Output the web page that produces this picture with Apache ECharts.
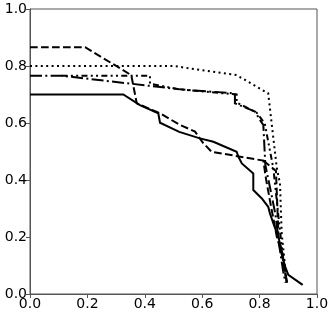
<!DOCTYPE html>
<html>
<head>
<meta charset="utf-8">
<script src="https://cdn.jsdelivr.net/npm/echarts@6/dist/echarts.min.js"></script>
<style>
html,body{margin:0;padding:0;background:#fff;}
#c{width:332px;height:316px;}
</style>
</head>
<body>
<div id="c"></div>
<script>
var xTicks = [0.0, 0.2, 0.4, 0.6, 0.8, 1.0];
var yTicks = [0.0, 0.2, 0.4, 0.6, 0.8, 1.0];

var solidLine = [[0,0.70],[0.325,0.70],[0.383,0.663],[0.447,0.634],[0.453,0.601],[0.52,0.569],[0.592,0.546],[0.639,0.534],[0.72,0.499],[0.726,0.482],[0.738,0.458],[0.778,0.423],[0.778,0.365],[0.807,0.336],[0.830,0.306],[0.836,0.283],[0.848,0.248],[0.865,0.201],[0.877,0.154],[0.883,0.119],[0.889,0.096],[0.90,0.067],[0.95,0.032]];
var dashedA = [[0,0.866],[0.192,0.866],[0.343,0.774],[0.354,0.762],[0.372,0.669],[0.453,0.634],[0.523,0.593],[0.575,0.57],[0.604,0.529],[0.633,0.499],[0.813,0.468],[0.823,0.40],[0.840,0.306],[0.86,0.201],[0.883,0.119],[0.894,0.043]];
var dashedB = [[0.813,0.468],[0.857,0.432],[0.862,0.30],[0.866,0.20],[0.885,0.10],[0.896,0.04]];
var dottedLine = [[0,0.80],[0.50,0.80],[0.72,0.768],[0.83,0.704],[0.86,0.441],[0.871,0.388],[0.877,0.213],[0.889,0.096],[0.894,0.037]];
var dashDotA = [[0,0.766],[0.11,0.766],[0.523,0.718],[0.714,0.704],[0.714,0.669],[0.784,0.64],[0.801,0.611],[0.813,0.593],[0.82,0.453],[0.835,0.38],[0.855,0.28],[0.87,0.16],[0.882,0.08],[0.89,0.04]];
var dashDotB = [[0.11,0.766],[0.418,0.766],[0.418,0.738],[0.52,0.718],[0.72,0.70],[0.72,0.672],[0.79,0.636],[0.818,0.598],[0.848,0.44],[0.868,0.25],[0.885,0.10],[0.895,0.04]];

var chart = echarts.init(document.getElementById('c'), null, {renderer:'canvas'});
var axisCol = '#555';
function mk(data, type, w){
  return {type:'line', data:data, symbol:'none', animation:false,
    lineStyle:{color:'#000', width:w || 2, type:type, cap:'butt', join:'miter'}, z:3};
}
chart.setOption({
  animation:false,
  grid:{left:30, right:15, top:9, bottom:22, show:true, borderColor:axisCol, borderWidth:1},
  xAxis:{type:'value', min:0, max:1, interval:0.2,
    axisLine:{show:true, onZero:false, lineStyle:{color:axisCol, width:1}},
    axisTick:{show:true, inside:false, length:4, lineStyle:{color:axisCol}},
    splitLine:{show:false},
    axisLabel:{margin:3, color:'#000', fontSize:14, fontFamily:'DejaVu Sans',
      formatter:function(v){return v.toFixed(1);}, showMinLabel:true, showMaxLabel:true}},
  yAxis:{type:'value', min:0, max:1, interval:0.2,
    axisLine:{show:true, onZero:false, lineStyle:{color:axisCol, width:1}},
    axisTick:{show:true, inside:false, length:4, lineStyle:{color:axisCol}},
    splitLine:{show:false},
    axisLabel:{margin:3, color:'#000', fontSize:14, fontFamily:'DejaVu Sans',
      formatter:function(v){return v.toFixed(1);}, showMinLabel:true, showMaxLabel:true}},
  series:[
    mk(solidLine,'solid'),
    mk(dashedA,[7.7,3.3]),
    mk(dashedB,[7.7,3.3]),
    mk(dottedLine,[2,3.4]),
    mk(dashDotA,[12,3.3,2,3.3]),
    mk(dashDotB,[6,3.3,2,3.3,2,3.3])
  ]
});
</script>
</body>
</html>
